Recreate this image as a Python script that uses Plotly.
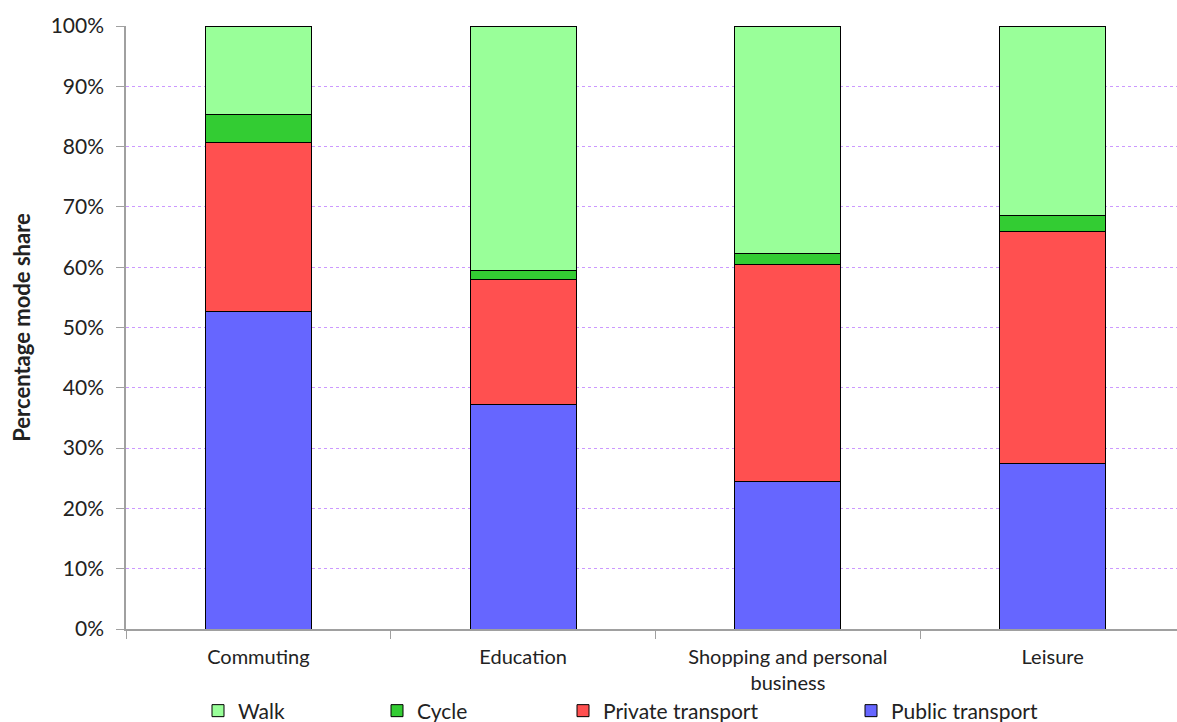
import plotly.graph_objects as go

categories = ["Commuting", "Education", "Shopping and personal<br>business", "Leisure"]
public_transport = [52.6, 37.3, 24.4, 27.4]
private_transport = [28.0, 20.6, 36.0, 38.6]
cycle = [4.8, 1.5, 1.8, 2.5]
walk = [14.6, 40.6, 37.8, 31.5]

W, H = 1190, 722
FONT = "Lato, 'Noto Sans', sans-serif"

series = [
    ("Public transport", public_transport, "#6666ff", "legend4", 851),
    ("Private transport", private_transport, "#ff5050", "legend3", 563),
    ("Cycle", cycle, "#33cc33", "legend2", 377),
    ("Walk", walk, "#99ff99", "legend", 198),
]

fig = go.Figure()
for name, vals, color, leg, lx in series:
    fig.add_trace(go.Bar(
        x=categories, y=vals, name=name, legend=leg, showlegend=True,
        marker=dict(color=color, line=dict(color="black", width=1)),
    ))

layout_legends = {}
for name, vals, color, leg, lx in series:
    layout_legends[leg] = dict(
        x=lx / W, y=1 - 711 / H, xref="container", yref="container",
        xanchor="left", yanchor="middle", orientation="h",
        font=dict(family=FONT, size=21, color="#222"),
        bgcolor="rgba(0,0,0,0)", itemwidth=30, tracegroupgap=0,
        visible=True,
    )

fig.update_layout(
    barmode="stack",
    bargap=0.6,
    width=W, height=H,
    showlegend=True,
    margin=dict(l=126, r=5, t=26, b=93, autoexpand=False),
    plot_bgcolor="white", paper_bgcolor="white",
    font=dict(family=FONT, size=20, color="#222"),
    **layout_legends,
)
fig.update_xaxes(
    showline=True, linecolor="#a0a0a0", linewidth=1.5,
    ticks="outside", tickson="boundaries", ticklen=8, tickcolor="#a0a0a0",
    tickfont=dict(size=20), showgrid=False, automargin=False,
    ticklabelstandoff=9,
)
fig.update_yaxes(
    range=[0, 100], dtick=10, ticksuffix="%",
    showline=True, linecolor="#a0a0a0", linewidth=1.5,
    ticks="outside", ticklen=8, tickcolor="#a0a0a0",
    tickfont=dict(size=21), ticklabelstandoff=8,
    showgrid=True, gridcolor="#cc99ff", griddash="dot", gridwidth=1,
    title=dict(text="<b>Percentage mode share</b>", font=dict(size=22), standoff=14),
    zeroline=False, automargin=False,
)
fig.write_html("out.html", config={"displayModeBar": False},
               post_script="document.body.style.margin='0';document.body.style.overflow='hidden';")
